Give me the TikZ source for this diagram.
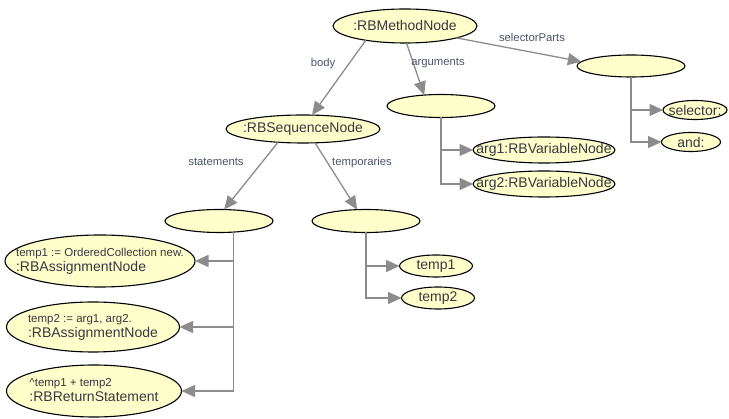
\documentclass[tikz,border=0pt]{standalone}
\usepackage{fontspec}
\setmainfont{Liberation Sans}
\usetikzlibrary{arrows.meta,shapes.geometric}

\definecolor{nodefill}{RGB}{255,255,204}
\definecolor{conncol}{RGB}{140,140,140}
\definecolor{nodetext}{RGB}{55,55,65}
\definecolor{lbltext}{RGB}{75,85,105}

% zero-width text so the ellipse keeps its given size
\newcommand{\zw}[1]{\makebox[0pt]{#1}}
\newcommand{\twoline}[2]{\makebox[0pt]{\begin{tabular}{@{}l@{}}%
  {\fontsize{11.5}{13}\selectfont #1}\\[-1pt]{\fontsize{14}{16}\selectfont #2}\end{tabular}}}

\tikzset{
  box/.style={ellipse, draw=black, line width=1.1pt, fill=nodefill,
    inner sep=0pt, outer sep=0pt, text=nodetext,
    font=\fontsize{14}{16}\selectfont},
  conn/.style={draw=conncol, line width=1.3pt,
    -{Triangle[length=13.5pt,width=12pt]}},
  lbl/.style={text=lbltext, inner sep=0pt, font=\fontsize{11.3}{13}\selectfont},
}

\begin{document}
\begin{tikzpicture}[x=1pt,y=-1pt]
\useasboundingbox (0,0) rectangle (729,419);

% nodes
\node[box, minimum width=144, minimum height=34] (m) at (405,26) {\zw{:RBMethodNode}};
\node[box, minimum width=108, minimum height=22] (sp) at (631,66) {};
\node[box, minimum width=64, minimum height=19] (sel) at (695,110) {\zw{selector:}};
\node[box, minimum width=59, minimum height=19] (and) at (691,142) {\zw{and:}};
\node[box, minimum width=108, minimum height=23] (args) at (441,106) {};
\node[box, minimum width=142, minimum height=26] (a1) at (544,150) {\zw{arg1:RBVariableNode}};
\node[box, minimum width=142, minimum height=26] (a2) at (544,184) {\zw{arg2:RBVariableNode}};
\node[box, minimum width=154, minimum height=28] (seq) at (303,129) {\zw{:RBSequenceNode}};
\node[box, minimum width=108, minimum height=23] (st) at (219,221) {};
\node[box, minimum width=108, minimum height=23] (tmp) at (366,221) {};
\node[box, minimum width=73, minimum height=22] (t1) at (436,266) {\zw{temp1}};
\node[box, minimum width=73, minimum height=22] (t2) at (438,298) {\zw{temp2}};
\node[box, minimum width=190, minimum height=52] (s1) at (100,261)
  {\twoline{temp1 := OrderedCollection new.}{:RBAssignmentNode}};
\node[box, minimum width=173, minimum height=50] (s2) at (93,327)
  {\twoline{temp2 := arg1, arg2.}{:RBAssignmentNode}};
\node[box, minimum width=175, minimum height=52] (s3) at (94,391)
  {\twoline{\textasciicircum temp1 + temp2}{:RBReturnStatement}};

% labelled connectors
\draw[conn] (m.200) -- (seq.57);
\draw[conn] (m.275) -- (args.147);
\draw[conn] (m.347) -- (sp.175);
\draw[conn] (seq.208) -- (st.66);
\draw[conn] (seq.311) -- (tmp.128);

\node[lbl] (lbody) at (323,64) {body};
\node[lbl] (largs) at (438,63) {arguments};
\node[lbl] (lsel) at (532,37) {selectorParts};
\node[lbl] (lstat) at (216,162) {statements};
\node[lbl] (ltemp) at (362,163) {temporaries};

% collection trees
\draw[conn] (args.south) |- (a1.west);
\draw[conn] (args.south) |- (a2.west);
\draw[conn] (sp.south) |- (sel.west);
\draw[conn] (sp.south) |- (and.west);
\draw[conn] (tmp.south) |- (t1.west);
\draw[conn] (tmp.south) |- (t2.west);
\draw[conn] (st.322) |- (s1.east);
\draw[conn] (st.322) |- (s2.east);
\draw[conn] (st.322) |- (s3.east);
\end{tikzpicture}
\end{document}
